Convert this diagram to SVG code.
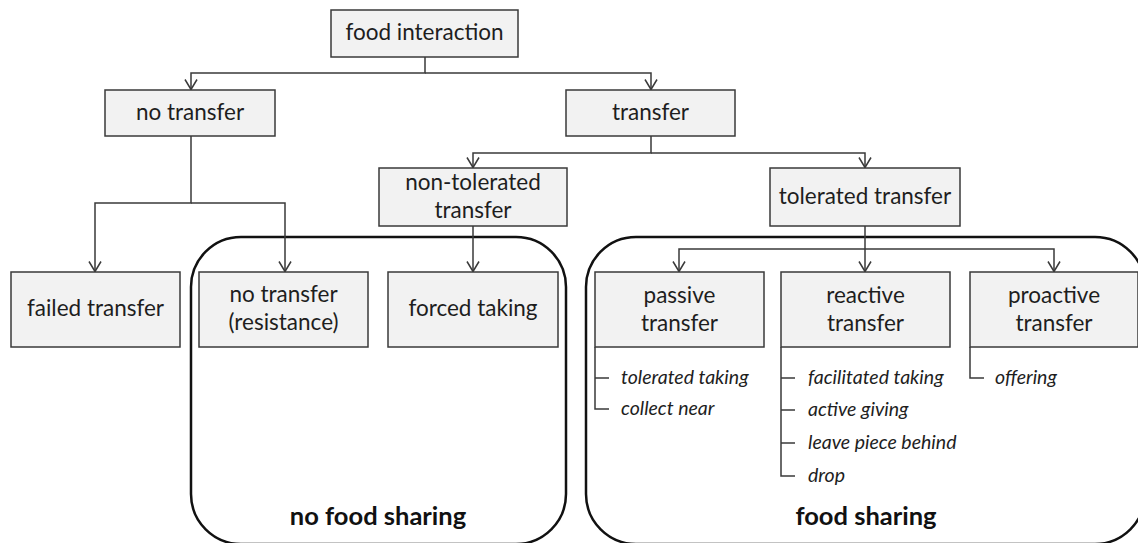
<svg xmlns="http://www.w3.org/2000/svg" width="1138" height="543" viewBox="0 0 1138 543">
<style>
.box{fill:#f2f2f2;stroke:#3a3a3a;stroke-width:1.5}
.t{font-family:Lato,"Liberation Sans",sans-serif;font-size:22.5px;fill:#1e1e1e;text-anchor:middle}
.i{font-family:Lato,"Liberation Sans",sans-serif;font-size:19.5px;font-style:italic;fill:#1e1e1e}
.b{font-family:Lato,"Liberation Sans",sans-serif;font-size:25.5px;font-weight:bold;fill:#111;text-anchor:middle}
.c{fill:none;stroke:#3a3a3a;stroke-width:1.5}
.grp{fill:none;stroke:#111;stroke-width:2.5}
</style>
<defs>
<marker id="arr" viewBox="-12 -8 14 16" refX="0" refY="0" markerWidth="14" markerHeight="16" markerUnits="userSpaceOnUse" orient="auto">
<path d="M-10,-6 L0,0 L-10,6" fill="none" stroke="#3a3a3a" stroke-width="1.5"/>
</marker>
</defs>
<g id="groups">
<g id="no-food-sharing"><rect class="grp" x="191" y="237" width="375" height="307" rx="50" ry="50"/><text class="b" x="378" y="525">no food sharing</text></g>
<g id="food-sharing"><rect class="grp" x="586" y="237" width="559" height="307" rx="50" ry="50"/><text class="b" x="866" y="525">food sharing</text></g>
</g>
<g id="connectors">
<path class="c" marker-end="url(#arr)" d="M425,57 V73 H191 V89.5"/>
<path class="c" marker-end="url(#arr)" d="M425,73 H651 V89.5"/>
<path class="c" marker-end="url(#arr)" d="M191,136 V203 H95 V271.5"/>
<path class="c" marker-end="url(#arr)" d="M191,203 H285 V271.5"/>
<path class="c" marker-end="url(#arr)" d="M651,136 V153 H473 V167.5"/>
<path class="c" marker-end="url(#arr)" d="M651,153 H865 V167.5"/>
<path class="c" marker-end="url(#arr)" d="M473,226 V271.5"/>
<path class="c" marker-end="url(#arr)" d="M865,226 V271.5"/>
<path class="c" marker-end="url(#arr)" d="M865,249 H679 V271.5"/>
<path class="c" marker-end="url(#arr)" d="M865,249 H1054 V271.5"/>
<path class="c" d="M595,347 V409 H609 M595,378 H609"/>
<path class="c" d="M781,347 V476 H795 M781,378 H795 M781,410 H795 M781,443 H795"/>
<path class="c" d="M970,347 V378 H984"/>
</g>
<g id="food-interaction"><rect class="box" x="331" y="10" width="187" height="47"/><text class="t" x="424.5" y="40">food interaction</text></g>
<g id="no-transfer"><rect class="box" x="105" y="90" width="170" height="46"/><text class="t" x="190" y="119.5">no transfer</text></g>
<g id="transfer"><rect class="box" x="566" y="90" width="169" height="46"/><text class="t" x="650.5" y="119.5">transfer</text></g>
<g id="non-tolerated-transfer"><rect class="box" x="379" y="168" width="188" height="58"/><text class="t" x="473" y="190">non-tolerated</text><text class="t" x="473" y="218">transfer</text></g>
<g id="tolerated-transfer"><rect class="box" x="770" y="168" width="190" height="58"/><text class="t" x="865" y="204">tolerated transfer</text></g>
<g id="failed-transfer"><rect class="box" x="11" y="272" width="169" height="75"/><text class="t" x="95.5" y="316">failed transfer</text></g>
<g id="no-transfer-resistance"><rect class="box" x="199" y="272" width="169" height="75"/><text class="t" x="283.5" y="302">no transfer</text><text class="t" x="283.5" y="330">(resistance)</text></g>
<g id="forced-taking"><rect class="box" x="388" y="272" width="170" height="75"/><text class="t" x="473" y="316">forced taking</text></g>
<g id="passive-transfer"><rect class="box" x="595" y="272" width="169" height="75"/><text class="t" x="679.5" y="303">passive</text><text class="t" x="679.5" y="331">transfer</text>
<text class="i" x="621" y="384">tolerated taking</text><text class="i" x="621" y="415">collect near</text></g>
<g id="reactive-transfer"><rect class="box" x="781" y="272" width="169" height="75"/><text class="t" x="865.5" y="303">reactive</text><text class="t" x="865.5" y="331">transfer</text>
<text class="i" x="808" y="384">facilitated taking</text><text class="i" x="808" y="416">active giving</text><text class="i" x="808" y="449">leave piece behind</text><text class="i" x="808" y="482">drop</text></g>
<g id="proactive-transfer"><rect class="box" x="970" y="272" width="168" height="75"/><text class="t" x="1054" y="303">proactive</text><text class="t" x="1054" y="331">transfer</text>
<text class="i" x="995" y="384">offering</text></g>
</svg>
